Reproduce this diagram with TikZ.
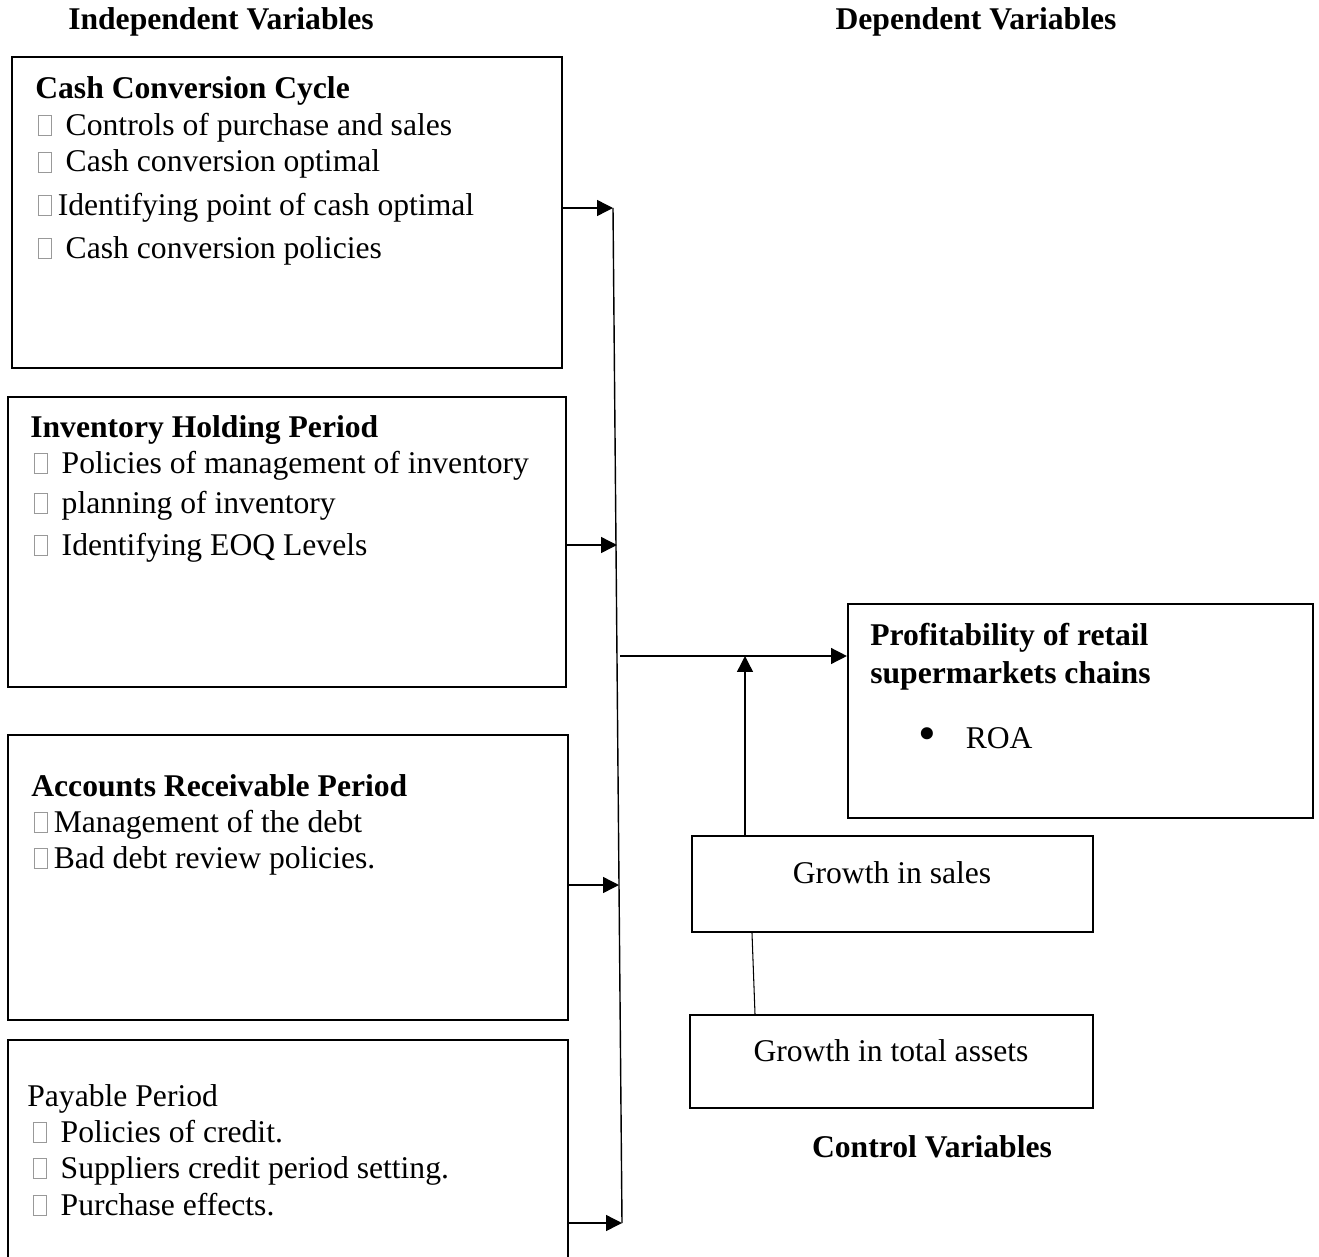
\documentclass[tikz,border=0pt]{standalone}
\usepackage{fontspec}
\setmainfont{Liberation Serif}
\usetikzlibrary{arrows.meta,fit}
\newcommand{\sqg}{\hspace{1.5pt}\textcolor{gray!80}{\setlength{\fboxsep}{0pt}\setlength{\fboxrule}{0.5pt}\fbox{\rule{0pt}{11pt}\hspace{6.8pt}}}\hspace{3.5pt}}
\begin{document}
\begin{tikzpicture}[x=0.02cm,y=-0.02cm,
  txt/.style={anchor=base west,inner sep=0pt,font=\fontsize{18}{22}\selectfont},
  btxt/.style={anchor=base west,inner sep=0pt,font=\fontsize{18}{22}\selectfont\bfseries},
  boxst/.style={draw,line width=1.2pt,inner sep=0pt},
  conn/.style={line width=0.8pt},
  arr/.style={conn,-{Triangle[length=9pt,width=9pt]}}]
\path[use as bounding box] (0,0) rectangle (1319,1257);
\clip (0,0) rectangle (1319,1257);

% headers
\node[btxt,anchor=base] (h1) at (221,30) {Independent Variables};
\node[btxt,anchor=base] (h2) at (976,30) {Dependent Variables};
\node[btxt,anchor=base] (h3) at (932,1157) {Control Variables};

% boxes
\node[boxst,fit={(12,57)(562,368)}] (b1) {};
\node[boxst,fit={(8,397)(566,687)}] (b2) {};
\node[boxst,fit={(8,735)(568,1020)}] (b3) {};
\node[boxst,fit={(8,1040)(568,1280)}] (b4) {};
\node[boxst,fit={(848,604)(1313,818)}] (P) {};
\node[boxst,fit={(692,836)(1093,932)}] (gs) {};
\node[boxst,fit={(690,1015)(1093,1108)}] (ga) {};

% box 1 text
\node[btxt] (t1) at (35,99) {Cash Conversion Cycle};
\node[txt] (t1a) at (35,135) {\sqg\ Controls of purchase and sales};
\node[txt] (t1b) at (35,172) {\sqg\ Cash conversion optimal};
\node[txt] (t1c) at (35,215) {\sqg{}Identifying point of cash optimal};
\node[txt] (t1d) at (35,258) {\sqg\ Cash conversion policies};

% box 2 text
\node[btxt] (t2) at (30,437) {Inventory Holding Period};
\node[txt] (t2a) at (31,473) {\sqg\ Policies of management of inventory};
\node[txt] (t2b) at (31,513) {\sqg\ planning of inventory};
\node[txt] (t2c) at (31,555) {\sqg\ Identifying EOQ Levels};

% box 3 text
\node[btxt] (t3) at (31,796) {Accounts Receivable Period};
\node[txt] (t3a) at (31,832) {\sqg{}Management of the debt};
\node[txt] (t3b) at (31,868) {\sqg{}Bad debt review policies.};

% box 4 text
\node[txt] (t4) at (27,1106) {Payable Period};
\node[txt] (t4a) at (30,1142) {\sqg\ Policies of credit.};
\node[txt] (t4b) at (30,1178) {\sqg\ Suppliers credit period setting.};
\node[txt] (t4c) at (30,1215) {\sqg\ Purchase effects.};

% profitability
\node[btxt] (p1) at (870,645) {Profitability of retail};
\node[txt] (p2) at (870,683) {\bfseries supermarkets chains};
\node[txt] (p3) at (918,748) {\makebox[27pt][l]{\raisebox{-1.2pt}{\scalebox{1.6}{•}}}ROA};

% growth
\node[txt,anchor=base] (g1) at (892,883) {Growth in sales};
\node[txt,anchor=base] (g2) at (891,1061) {Growth in total assets};

% bus and arrows
\coordinate (a1) at (613,208);
\coordinate (a2) at (617,545);
\coordinate (a3) at (619,885);
\coordinate (a4) at (622,1223);
\draw[conn] (a1) -- (a4);
\draw[arr] (b1.east |- a1) -- (a1);
\draw[arr] (b2.east |- a2) -- (a2);
\draw[arr] (b3.east |- a3) -- (a3);
\draw[arr] (b4.east |- a4) -- (a4);

\coordinate (h0) at (620,656);
\draw[arr] (h0) -- (P.west |- h0);
\coordinate (u) at (745,656);
\draw[arr] (gs.north -| u) -- (u);

\coordinate (l1) at (752,0);
\coordinate (l2) at (755,0);
\draw[line width=0.6pt] (gs.south -| l1) -- (ga.north -| l2);
\end{tikzpicture}
\end{document}
